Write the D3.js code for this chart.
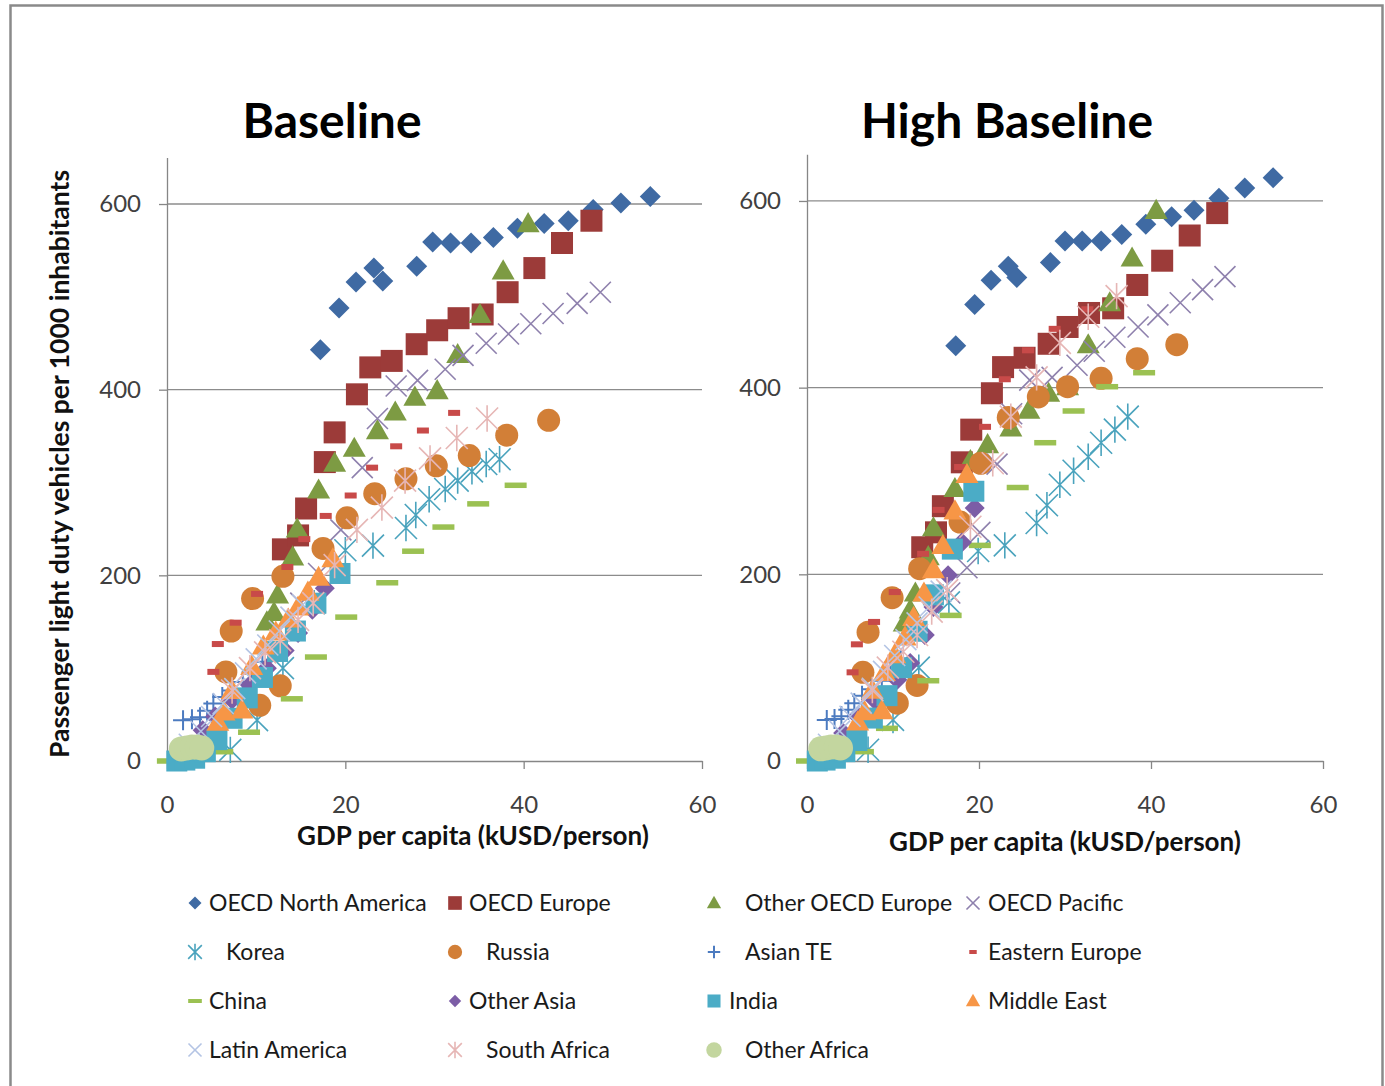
<!DOCTYPE html>
<html>
<head>
<meta charset="utf-8">
<script src="https://cdn.jsdelivr.net/npm/d3@7"></script>
<style>
  body { margin: 0; background: #fff; }
  text { font-family: Lato, "Open Sans", sans-serif; }
</style>
</head>
<body>
<div id="chart"></div>
<script>
// values: [GDP per capita kUSD, vehicles per 1000]
var naBase = [[17.2,443],[19.3,488],[21.2,516],[23.2,531],[24.2,517],[28.0,533],[29.8,559],[31.8,558],[34.1,558],[36.6,564],[39.3,574],[42.3,579],[45.0,582],[47.8,594],[50.9,601],[54.2,608]];
var naHigh = [[17.3,445],[19.5,489],[21.4,515],[23.4,530],[24.4,518],[28.3,534],[30.0,557],[32.0,557],[34.2,557],[36.6,564],[39.4,575],[42.4,583],[45.0,590],[47.9,603],[50.9,614],[54.2,625]];

var euBase = [[13.0,228],[14.7,243],[15.6,272],[17.7,322],[18.8,354],[21.3,395],[22.8,424],[25.2,431],[28.0,449],[30.3,464],[32.7,477],[35.4,481],[38.2,505],[41.2,531],[44.3,558],[47.6,582]];
var euHigh = [[13.4,229],[15.0,245],[15.8,273],[18.0,320],[19.1,355],[21.5,394],[22.8,422],[25.3,432],[28.1,447],[30.3,465],[32.8,480],[35.6,485],[38.4,510],[41.3,536],[44.5,563],[47.7,587]];

var othEuBase = [[11.2,150],[12.0,160],[12.4,179],[14.1,220],[14.6,250],[17.0,292],[18.8,321],[21.0,337],[23.6,356],[25.6,376],[27.8,392],[30.3,399],[32.6,438],[35.1,481],[37.7,528],[40.5,579]];
var othEuHigh = [[11.3,148],[12.0,162],[12.6,180],[14.1,219],[14.7,250],[17.2,292],[19.0,322],[21.0,339],[23.7,357],[25.8,376],[28.1,394],[30.3,401],[32.7,446],[35.2,491],[37.8,539],[40.6,590]];

var pacBase = [[15.0,170],[17.0,202],[19.5,249],[21.9,316],[23.6,369],[25.7,404],[28.1,410],[31.2,422],[33.2,437],[35.8,450],[38.3,460],[40.8,471],[43.3,482],[46.0,493],[48.6,505]];
var pacHigh = [[16.6,180],[18.6,207],[20.1,245],[22.1,318],[23.8,372],[25.9,408],[28.5,411],[31.4,424],[33.4,439],[35.8,454],[38.5,465],[40.8,478],[43.4,491],[46.0,505],[48.6,519]];

var korBase = [[7.1,12],[10.1,44],[13.0,100],[16.5,170],[20.0,227],[23.1,232],[26.8,251],[27.9,265],[29.4,282],[31.2,293],[32.6,302],[34.2,312],[35.8,320],[37.3,325]];
var korHigh = [[7.1,12],[10.0,44],[13.0,100],[16.5,170],[19.9,225],[23.0,231],[26.7,255],[27.9,274],[29.4,296],[31.0,311],[32.7,326],[34.2,341],[35.8,355],[37.3,369]];

var rusBase = [[6.6,96],[7.2,140],[9.6,175],[10.4,60],[12.7,81],[13.0,199],[17.5,229],[20.2,262],[23.3,288],[26.8,304],[30.2,318],[33.9,329],[38.1,351],[42.8,367]];
var rusHigh = [[6.5,95],[7.1,138],[9.9,175],[10.5,62],[12.8,81],[13.1,206],[17.8,256],[20.2,319],[23.4,368],[26.9,390],[30.3,401],[34.2,410],[38.4,431],[43.0,446]];

var asiaTeBase = [[1.8,44],[2.8,45],[3.7,47],[4.5,54],[5.2,62],[6.2,69],[7.3,76],[8.5,85],[9.5,96],[10.7,107]];
var asiaTeHigh = [[2.3,44],[3.2,45],[4.0,48],[4.8,55],[5.5,62],[6.4,70],[7.5,77],[8.7,86],[9.7,97],[10.9,108]];

var eeBase = [[5.2,96],[5.7,126],[7.7,149],[10.1,180],[13.5,209],[15.4,239],[17.8,264],[20.6,286],[23.0,316],[25.7,339],[28.7,356],[32.2,375]];
var eeHigh = [[5.3,95],[5.8,125],[7.8,149],[10.2,181],[13.5,222],[15.3,269],[17.8,315],[20.7,358],[23.0,409],[25.7,440],[28.8,463],[32.6,484]];

var chnBase = [[0.1,0],[6.2,10],[9.2,31],[14.0,67],[16.7,112],[20.1,155],[24.7,192],[27.6,226],[31.0,252],[34.9,277],[39.1,297]];
var chnHigh = [[0.0,0],[6.5,10],[9.3,35],[14.1,86],[16.7,156],[20.1,231],[24.5,293],[27.7,341],[31.0,375],[34.9,401],[39.2,416]];

var othAsiaBase = [[4.0,33],[5.4,48],[7.3,66],[9.3,82],[11.2,100],[13.2,119],[14.7,138],[16.3,163],[17.7,186]];
var othAsiaHigh = [[4.2,30],[5.9,48],[7.9,65],[10.5,87],[12.0,105],[13.7,135],[14.7,165],[16.4,199],[18.0,234],[19.5,271]];

var indBase = [[1.1,0],[2.0,1],[3.1,3],[4.3,10],[5.6,23],[7.3,46],[9.0,68],[10.7,90],[12.4,118],[14.4,140],[16.7,170],[19.4,202]];
var indHigh = [[1.2,0],[2.1,1],[3.3,3],[4.4,10],[5.8,22],[7.6,46],[9.3,70],[11.0,100],[12.8,139],[14.7,178],[16.9,227],[19.4,289]];

var meBase = [[5.7,42],[6.4,53],[8.4,55],[7.3,76],[9.5,102],[10.8,124],[12.2,139],[13.6,153],[14.7,166],[15.8,182],[17.0,198],[18.6,218]];
var meHigh = [[5.9,42],[6.7,53],[8.7,54],[7.6,76],[9.0,95],[10.2,114],[11.4,133],[12.4,154],[13.6,180],[14.7,205],[15.8,231],[17.2,268],[18.6,307]];

var latBase = [[2.5,18],[3.8,32],[5.0,48],[6.3,62],[7.6,78],[8.8,95],[10.0,110],[11.3,125],[12.6,140],[13.9,155],[15.2,168]];
var latHigh = [[2.5,18],[3.8,32],[5.0,48],[6.3,62],[7.6,78],[8.9,96],[10.2,113],[11.5,130],[12.8,148],[14.2,165],[15.6,182]];

var safBase = [[7.3,76],[9.3,100],[11.0,117],[12.7,130],[14.7,152],[16.4,170],[18.8,211],[21.3,249],[24.1,273],[26.7,302],[29.5,326],[32.5,348],[35.9,369]];
var safHigh = [[7.6,76],[9.4,100],[11.2,117],[12.8,135],[14.5,160],[16.3,183],[19.0,251],[21.6,319],[23.7,369],[26.7,411],[29.4,448],[32.7,476],[36.0,498]];

var othAfBase = [[1.6,13],[2.2,14],[2.8,15],[3.4,15],[3.9,14]];
var othAfHigh = [[1.6,13],[2.2,14],[2.8,15],[3.4,15],[3.9,14]];

var seriesNames = ["OECD North America", "OECD Europe", "Other OECD Europe", "OECD Pacific",
  "Korea", "Russia", "Asian TE", "Eastern Europe",
  "China", "Other Asia", "India", "Middle East",
  "Latin America", "South Africa", "Other Africa"];

var baselineSeries = [naBase, euBase, othEuBase, pacBase, korBase, rusBase, asiaTeBase, eeBase,
  chnBase, othAsiaBase, indBase, meBase, latBase, safBase, othAfBase];
var highSeries = [naHigh, euHigh, othEuHigh, pacHigh, korHigh, rusHigh, asiaTeHigh, eeHigh,
  chnHigh, othAsiaHigh, indHigh, meHigh, latHigh, safHigh, othAfHigh];

var xTicks = [0, 20, 40, 60];
var yTicks = [0, 200, 400, 600];

// marker look per series (same order as names)
var styles = [
  {sym: "diamond", r: 10.5, color: "#3F6AA3"},
  {sym: "square", r: 11, color: "#9C3B39"},
  {sym: "triangle", r: 11.5, color: "#7D9B43"},
  {sym: "x", r: 10.5, color: "#8E80AD"},
  {sym: "star", r: 11, color: "#4AA3BD"},
  {sym: "circle", r: 11.5, color: "#D27F37"},
  {sym: "plus", r: 10, color: "#4C7BC0"},
  {sym: "dash", w: 12, h: 6, color: "#C84A49"},
  {sym: "dash", w: 22, h: 5.5, color: "#9BC152"},
  {sym: "diamond", r: 10, color: "#7C5DA6"},
  {sym: "square", r: 10.5, color: "#4BACC6"},
  {sym: "triangle", r: 11.5, color: "#F79646"},
  {sym: "x", r: 10.5, color: "#B4C4E4"},
  {sym: "star", r: 11, color: "#E6B6B5"},
  {sym: "circle", r: 12.5, color: "#C3D69F"}
];

var W = 1385, H = 1086;
var svg = d3.select("#chart").append("svg")
  .attr("width", W)
  .attr("height", H);

// frame
svg.append("rect")
  .attr("x", 10.5).attr("y", 5.5)
  .attr("width", 1372).attr("height", 1100)
  .attr("fill", "#fff")
  .attr("stroke", "#8a8a8a")
  .attr("stroke-width", 2.5);

function drawMarker(g, st, k) {
  k = k || 1;
  var r = (st.r || 0) * k;
  if (st.sym == "circle") {
    g.append("circle").attr("r", r).attr("fill", st.color);
  } else if (st.sym == "diamond") {
    g.append("path").attr("d", "M0," + (-r) + "L" + r + ",0L0," + r + "L" + (-r) + ",0Z").attr("fill", st.color);
  } else if (st.sym == "square") {
    g.append("rect").attr("x", -r).attr("y", -r).attr("width", 2 * r).attr("height", 2 * r).attr("fill", st.color);
  } else if (st.sym == "triangle") {
    g.append("path").attr("d", "M0," + (-r) + "L" + r + "," + (r * 0.75) + "L" + (-r) + "," + (r * 0.75) + "Z").attr("fill", st.color);
  } else if (st.sym == "dash") {
    g.append("rect").attr("x", -st.w * k / 2).attr("y", -st.h * k / 2)
      .attr("width", st.w * k).attr("height", st.h * k).attr("fill", st.color);
  } else {
    var d = "";
    if (st.sym == "x" || st.sym == "star") {
      d += "M" + (-r) + "," + (-r) + "L" + r + "," + r + "M" + (-r) + "," + r + "L" + r + "," + (-r);
    }
    if (st.sym == "star") d += "M0," + (-r * 1.2) + "L0," + (r * 1.2);
    if (st.sym == "plus") d += "M" + (-r) + ",0L" + r + ",0M0," + (-r) + "L0," + r;
    g.append("path").attr("d", d).attr("fill", "none")
      .attr("stroke", st.color).attr("stroke-width", st.sym == "plus" ? 2 : 1.6);
  }
}

var panels = [
  {title: "Baseline", series: baselineSeries, left: 167, right: 702, top: 157.6, titleX: 332, xTitleX: 473, xTitleY: 845},
  {title: "High Baseline", series: highSeries, left: 807, right: 1323, top: 154.3, titleX: 1007, xTitleX: 1065, xTitleY: 851}
];
var bottom = 761;

panels.forEach(function(p) {
  var x = d3.scaleLinear().domain([0, 60]).range([p.left, p.right]);
  var y = d3.scaleLinear().domain([0, 650]).range([bottom, p.top]);
  var g = svg.append("g");

  // gridlines
  g.selectAll(".grid")
    .data(yTicks.filter(function(v) { return v > 0; }))
    .enter()
    .append("line")
    .attr("x1", p.left).attr("x2", p.right)
    .attr("y1", function(d) { return y(d); })
    .attr("y2", function(d) { return y(d); })
    .attr("stroke", "#8c8c8c")
    .attr("stroke-width", 1.3);

  var yAxis = g.append("g")
    .attr("transform", "translate(" + p.left + ",0)")
    .call(d3.axisLeft(y).tickValues(yTicks).tickSize(8).tickSizeOuter(0).tickPadding(18));
  var xAxis = g.append("g")
    .attr("transform", "translate(0," + bottom + ")")
    .call(d3.axisBottom(x).tickValues(xTicks).tickSize(8).tickSizeOuter(0).tickPadding(27));

  [yAxis, xAxis].forEach(function(a) {
    a.selectAll("path, line").attr("stroke", "#868686").attr("stroke-width", 1.3);
    a.selectAll("text")
      .attr("font-family", "Lato, sans-serif")
      .attr("font-size", 24)
      .attr("fill", "#404040");
  });

  // points, series drawn in order so later ones sit on top
  p.series.forEach(function(data, i) {
    g.append("g").selectAll("g")
      .data(data)
      .enter()
      .append("g")
      .attr("transform", function(d) { return "translate(" + x(d[0]) + "," + y(d[1]) + ")"; })
      .each(function() { drawMarker(d3.select(this), styles[i]); });
  });

  g.append("text")
    .attr("x", p.titleX).attr("y", 138)
    .attr("text-anchor", "middle")
    .attr("font-size", 48)
    .attr("font-weight", "bold")
    .attr("fill", "#000")
    .text(p.title);

  g.append("text")
    .attr("x", p.xTitleX).attr("y", p.xTitleY)
    .attr("text-anchor", "middle")
    .attr("font-size", 26)
    .attr("font-weight", "bold")
    .attr("fill", "#111")
    .text("GDP per capita (kUSD/person)");
});

svg.append("text")
  .attr("transform", "translate(69,464) rotate(-90)")
  .attr("text-anchor", "middle")
  .attr("font-size", 26.5)
  .attr("font-weight", "bold")
  .attr("fill", "#111")
  .text("Passenger light duty vehicles per 1000 inhabitants");

// legend, 4 columns
var legCols = [195, 455, 714, 973];
var legRows = [903, 952, 1001, 1050];
var legTextDx = [14, 14, 31, 15, 31, 31, 31, 15, 14, 14, 15, 15, 14, 31, 31];

var leg = svg.append("g");
seriesNames.forEach(function(name, i) {
  var cx = legCols[i % 4], cy = legRows[Math.floor(i / 4)];
  var item = leg.append("g");
  var m = item.append("g").attr("transform", "translate(" + cx + "," + cy + ")");
  var st = styles[i];
  if (st.sym == "dash") drawMarker(m, {sym: "dash", w: st.w * 0.62, h: 4, color: st.color});
  else drawMarker(m, st, 0.62);
  item.append("text")
    .attr("x", cx + legTextDx[i]).attr("y", cy + 8)
    .attr("font-size", 23)
    .attr("fill", "#1a1a1a")
    .text(name);
});
</script>
</body>
</html>
